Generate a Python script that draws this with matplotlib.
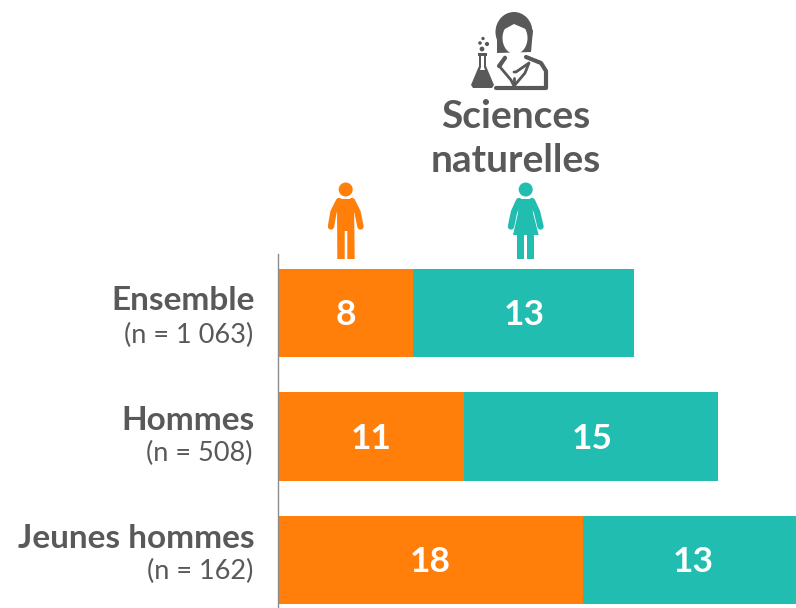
import matplotlib
matplotlib.use("Agg")
import matplotlib.pyplot as plt
from matplotlib.patches import Circle, Polygon, Ellipse, Rectangle

plt.rcParams['font.family'] = ['Lato', 'DejaVu Sans']

categories = ["Ensemble", "Hommes", "Jeunes hommes"]
counts = ["(n = 1 063)", "(n = 508)", "(n = 162)"]
men = [8, 11, 18]
women = [13, 15, 13]

ORANGE = '#FF7F0A'
TEAL = '#20BDB0'
GREY = '#595959'
W, H = 796, 608

fig = plt.figure(figsize=(W / 100, H / 100), dpi=100)

# bars: 16.93 px per unit on x, 123.5 px between rows
ax = fig.add_axes([278 / W, 0, (W - 278) / W, 1 - 254 / H])
ax.set_xlim(0, (W - 278) / 16.93)
ax.set_ylim(2.389, -0.478)
ax.barh(range(3), men, height=0.717, color=ORANGE)
ax.barh(range(3), women, left=men, height=0.717, color=TEAL)
for i in range(3):
    ax.text(men[i] / 2, i + 0.02, str(men[i]), color='white', fontsize=25.5, fontweight='bold', ha='center', va='center')
    ax.text(men[i] + women[i] / 2 + 0.05, i + 0.02, str(women[i]), color='white', fontsize=25.5, fontweight='bold', ha='center', va='center')
for s in ['top', 'right', 'bottom']:
    ax.spines[s].set_visible(False)
ax.spines['left'].set_color('#8c8c8c')
ax.spines['left'].set_linewidth(1)
ax.set_xticks([])
ax.set_yticks([])

# overlay in pixel coordinates for labels and icons
ov = fig.add_axes([0, 0, 1, 1])
ov.set_xlim(0, W)
ov.set_ylim(H, 0)
ov.axis('off')
ov.patch.set_alpha(0)

label_y = [301, 420, 539]
count_y = [335, 453, 571]
for i in range(3):
    ov.text(255, label_y[i], categories[i], fontsize=24, fontweight='bold', color=GREY, ha='right', va='center')
    ov.text(253, count_y[i], counts[i], fontsize=19.5, color=GREY, ha='right', va='center')

ov.text(516, 117, "Sciences", fontsize=28, fontweight='bold', color=GREY, ha='center', va='center')
ov.text(516, 161, "naturelles", fontsize=28, fontweight='bold', color=GREY, ha='center', va='center')


def limb(x, y, color, lw):
    ov.plot(x, y, color=color, lw=lw, solid_capstyle='round', solid_joinstyle='round')


# man icon
ov.add_patch(Circle((345.7, 189.5), 7, color=ORANGE, lw=0))
ov.add_patch(Polygon([(337, 199), (354, 199), (354.7, 259), (347.3, 259), (347.3, 231), (344.7, 231),
                      (344.7, 259), (337.3, 259)], color=ORANGE, lw=0))
limb([339, 333.5, 331], [201, 212, 226.5], ORANGE, 4.6)
limb([352, 357.5, 360.5], [201, 212, 226.5], ORANGE, 4.6)

# woman icon
ov.add_patch(Circle((525.7, 189.5), 7, color=TEAL, lw=0))
ov.add_patch(Polygon([(519, 199), (532, 199), (533, 213), (538.7, 235), (513, 235), (518, 213)], color=TEAL, lw=0))
ov.add_patch(Rectangle((517.3, 234), 6.7, 25, color=TEAL, lw=0))
ov.add_patch(Rectangle((527.3, 234), 6.7, 25, color=TEAL, lw=0))
limb([519, 514, 511], [201, 212, 226.5], TEAL, 4.6)
limb([532, 537, 540.5], [201, 212, 226.5], TEAL, 4.6)

# scientist icon
ov.add_patch(Ellipse((514, 32), 37, 40, color=GREY, lw=0))
ov.add_patch(Polygon([(497, 30), (533, 30), (531, 52), (497, 53)], color=GREY, lw=0))
ov.add_patch(Ellipse((515, 38), 25, 32, color='white', lw=0))
ov.add_patch(Polygon([(503, 30), (514, 24), (528, 30), (528, 20), (503, 20)], color=GREY, lw=0))
limb([499, 505], [66, 58], GREY, 3)
limb([526, 541, 546, 546, 496], [57, 63, 71, 88, 88], GREY, 3)
limb([505, 500, 511, 514, 525, 529, 516, 514], [57, 67, 80, 86, 73, 63, 72, 72], GREY, 2)
limb([514, 514], [78, 88], GREY, 2)
ov.add_patch(Polygon([(478, 53), (487, 53), (487, 56), (486, 56), (486, 66), (494, 85), (492, 88),
                      (473, 88), (471, 85), (479, 66), (479, 56), (478, 56)], color=GREY, lw=0))
ov.add_patch(Polygon([(481, 56), (484, 56), (484, 67), (485, 70), (480, 70), (481, 67)], color='white', lw=0))
for px, py, r in [(482, 49, 2.4), (480, 43, 1.8), (487, 44, 2.1), (483, 38.5, 1.7)]:
    ov.add_patch(Circle((px, py), r, color=GREY, lw=0))

fig.savefig("out.png", dpi=100)
